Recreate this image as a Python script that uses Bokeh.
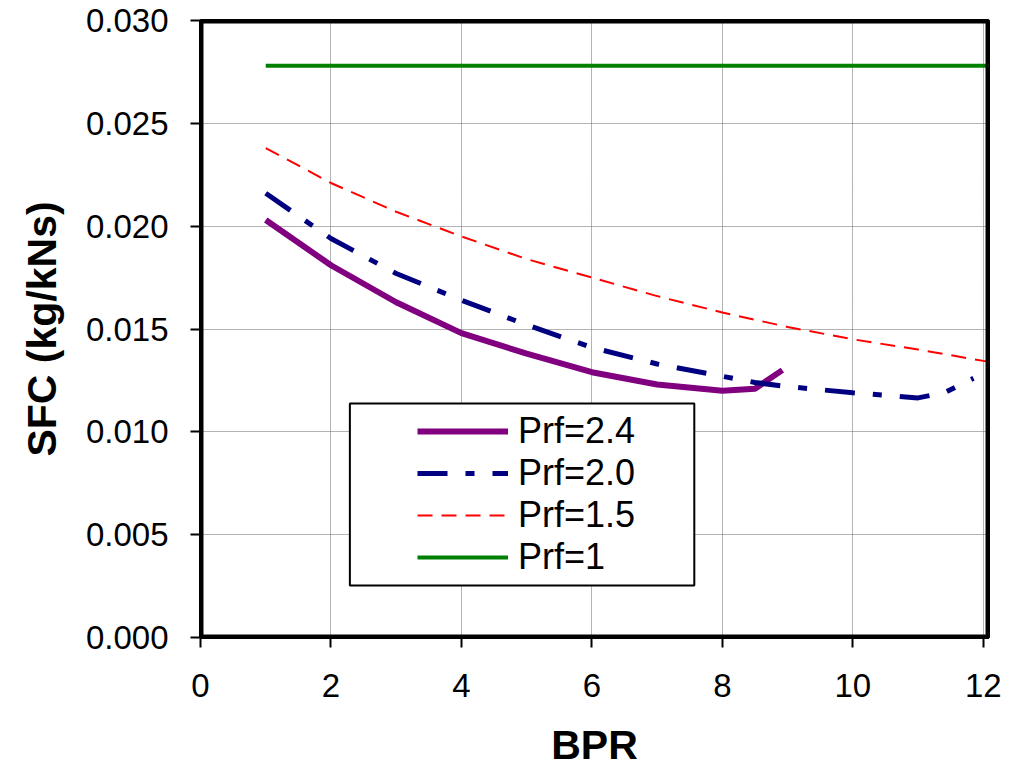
from bokeh.plotting import figure
from bokeh.models import (Legend, LegendItem, BoxAnnotation, SingleIntervalTicker,
                          NumeralTickFormatter, Range1d)
from bokeh.embed import file_html
from bokeh.resources import INLINE

# ---- data ----
bpr_24 = [1, 2, 3, 4, 5, 6, 7, 8, 8.5, 8.92]
sfc_24 = [0.0203, 0.0181, 0.0163, 0.0148, 0.0138, 0.0129, 0.0123, 0.0120, 0.0121, 0.0130]

bpr_20 = [1, 2, 3, 4, 5, 6, 7, 8, 8.5, 9, 10, 11, 11.4, 11.85]
sfc_20 = [0.0216, 0.0194, 0.0177, 0.0164, 0.0152, 0.0141, 0.0133, 0.0127, 0.0124,
          0.0122, 0.0119, 0.01165, 0.0119, 0.0126]

bpr_15 = [1, 2, 3, 4, 5, 6, 7, 8, 9, 10, 11, 12, 12.1]
sfc_15 = [0.0238, 0.0221, 0.0207, 0.0195, 0.0184, 0.0175, 0.0166, 0.0158, 0.0151,
          0.0145, 0.0140, 0.01345, 0.0134]

bpr_10 = [1, 12.1]
sfc_10 = [0.0278, 0.0278]

labels = ["Prf=2.4", "Prf=2.0", "Prf=1.5", "Prf=1"]

FONT = "Liberation Sans"

p = figure(width=1015, height=769, frame_width=788, frame_height=617,
           min_border_left=200, min_border_right=27, min_border_top=20, min_border_bottom=132,
           x_range=Range1d(0, 12.08), y_range=Range1d(0, 0.030),
           output_backend="svg", toolbar_location=None,
           x_axis_label="BPR", y_axis_label="SFC (kg/kNs)")

p.background_fill_color = "white"
p.border_fill_color = "white"
p.outline_line_color = "black"
p.outline_line_alpha = 1.0
p.outline_line_width = 3

p.xaxis.ticker = SingleIntervalTicker(interval=2)
p.yaxis.ticker = SingleIntervalTicker(interval=0.005)
p.yaxis.formatter = NumeralTickFormatter(format="0.000")

p.axis.axis_line_color = "black"
p.axis.axis_line_alpha = 1.0
p.axis.axis_line_width = 3
p.axis.major_tick_line_color = "black"
p.axis.major_tick_line_width = 2
p.axis.major_tick_out = 10
p.axis.major_tick_in = 0
p.axis.minor_tick_line_color = None
p.axis.major_label_text_font = FONT
p.axis.major_label_text_font_size = "33px"
p.axis.major_label_text_color = "black"
p.axis.axis_label_text_font = FONT
p.axis.axis_label_text_font_style = "bold"
p.axis.axis_label_text_font_size = "41px"
p.axis.axis_label_text_color = "black"

p.yaxis.major_label_standoff = 22
p.yaxis.axis_label_standoff = 18
p.xaxis.major_label_standoff = 26
p.xaxis.axis_label_standoff = 22

p.grid.grid_line_color = "#666666"
p.grid.grid_line_width = 1
p.grid.grid_line_dash = "1 1"
p.xgrid.ticker = SingleIntervalTicker(interval=2)
p.ygrid.ticker = SingleIntervalTicker(interval=0.005)

r24 = p.line(bpr_24, sfc_24, line_color="#800080", line_width=6)
r20 = p.line(bpr_20, sfc_20, line_color="#000080", line_width=5, line_dash="30 18 9 18")
r15 = p.line(bpr_15, sfc_15, line_color="#FF0000", line_width=2, line_dash="15 9")
r10 = p.line(bpr_10, sfc_10, line_color="#008000", line_width=4)

# thick black frame around the plot area
frame_box = BoxAnnotation(fill_alpha=0, line_color="black", line_alpha=1.0, line_width=6)
p.add_layout(frame_box)

# legend frame (white box with black border)
box = BoxAnnotation(left=2.29, right=7.57, top=0.01138, bottom=0.00253,
                    fill_color="white", fill_alpha=1.0,
                    line_color="black", line_alpha=1.0, line_width=2)
p.add_layout(box)

legend = Legend(items=[LegendItem(label=l, renderers=[r]) for l, r in
                       zip(labels, [r24, r20, r15, r10])],
                location=(212, 54),
                border_line_alpha=0, background_fill_alpha=0,
                label_text_font=FONT, label_text_font_size="36px",
                label_text_color="black",
                glyph_width=91, glyph_height=42, label_height=42,
                label_standoff=10, spacing=0, padding=5, margin=0)
p.add_layout(legend, "center")

open("out.html", "w").write(file_html(p, INLINE))
